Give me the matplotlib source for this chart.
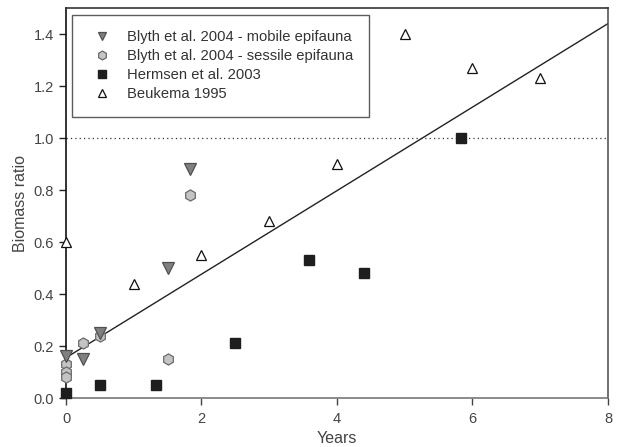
import matplotlib.pyplot as plt

plt.rcParams['font.family'] = ['Liberation Sans', 'DejaVu Sans']

# Blyth et al. 2004 - mobile epifauna
mob_x = [0, 0.25, 0.5, 1.5, 1.83]
mob_y = [0.16, 0.15, 0.25, 0.50, 0.88]

# Blyth et al. 2004 - sessile epifauna
ses_x = [0, 0, 0, 0.25, 0.5, 1.5, 1.83]
ses_y = [0.13, 0.10, 0.08, 0.21, 0.24, 0.15, 0.78]

# Hermsen et al. 2003
her_x = [0, 0.5, 1.33, 2.5, 3.58, 4.4, 5.83]
her_y = [0.02, 0.05, 0.05, 0.21, 0.53, 0.48, 1.0]

# Beukema 1995
beu_x = [0, 1, 2, 3, 4, 5, 6, 7]
beu_y = [0.60, 0.44, 0.55, 0.68, 0.90, 1.40, 1.27, 1.23]

# regression line end points
fit_x = [0, 8]
fit_y = [0.155, 1.44]

fig = plt.figure(figsize=(6.21, 4.47), dpi=100)
ax = fig.add_axes([0.1063, 0.1096, 0.8727, 0.8725])

ax.axhline(1.0, color='#333333', lw=0.9, ls=(0, (1, 2.5)), zorder=1)
ax.plot(fit_x, fit_y, color='#222222', lw=1.0, zorder=2)

ax.plot(beu_x, beu_y, '^', ms=7.5, mfc='white', mec='#111111', mew=0.9,
        ls='none', label='Beukema 1995', zorder=3, clip_on=False)
ax.plot(her_x, her_y, 's', ms=7, mfc='#1e1e1e', mec='#1e1e1e',
        ls='none', label='Hermsen et al. 2003', zorder=3, clip_on=False)
ax.plot(ses_x, ses_y, 'h', ms=8, mfc='#c4c4c4', mec='#6a6a6a', mew=0.9,
        ls='none', label='Blyth et al. 2004 - sessile epifauna', zorder=4,
        clip_on=False)
ax.plot(mob_x, mob_y, 'v', ms=8, mfc='#808080', mec='#505050', mew=0.9,
        ls='none', label='Blyth et al. 2004 - mobile epifauna', zorder=5,
        clip_on=False)

ax.set_xlim(0, 8)
ax.set_ylim(0, 1.5)
ax.set_xticks([0, 2, 4, 6, 8])
ax.set_yticks([0.0, 0.2, 0.4, 0.6, 0.8, 1.0, 1.2, 1.4])
ax.set_yticklabels(['0.0', '0.2', '0.4', '0.6', '0.8', '1.0', '1.2', '1.4'])
ax.tick_params(labelsize=10.5, colors='#444444', length=5, width=1)
ax.tick_params(axis='x', pad=5)
ax.tick_params(axis='y', colors='#222222', labelcolor='#444444')

ax.spines['left'].set_color('#111111')
ax.spines['bottom'].set_color('#777777')
ax.spines['top'].set_color('#333333')
ax.spines['right'].set_color('#555555')
for s in ax.spines.values():
    s.set_linewidth(1.2)

ax.set_xlabel('Years', fontsize=11.5, color='#444444', labelpad=4)
ax.set_ylabel('Biomass ratio', fontsize=11.5, color='#444444', labelpad=4)

handles, labels = ax.get_legend_handles_labels()
leg = ax.legend(handles[::-1], labels[::-1], loc='upper left',
                bbox_to_anchor=(0.011, 0.982), fontsize=10.6, frameon=True,
                fancybox=False, edgecolor='#333333', borderpad=1.05,
                handlelength=2.0, handletextpad=0.7, labelspacing=0.33,
                borderaxespad=0, markerscale=0.8)
leg.get_frame().set_linewidth(1.0)
for t in leg.get_texts():
    t.set_color('#333333')

fig.savefig('out.png', dpi=100)
